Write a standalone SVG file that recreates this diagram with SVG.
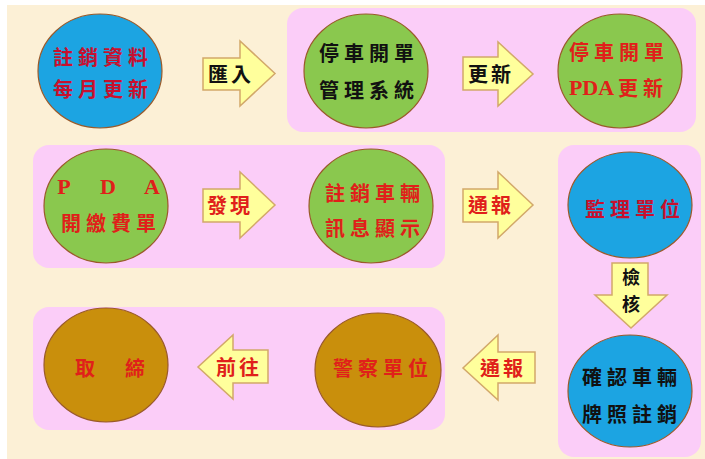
<svg xmlns="http://www.w3.org/2000/svg" width="705" height="459" viewBox="0 0 705 459">
<defs>
<style>
.bg{fill:#fcf0d6}
.panel{fill:#fbcdf8}
.c{stroke:#9a5a2a;stroke-width:1.2}
.blue{fill:#1ca4e2}
.green{fill:#8ac84e}
.gold{fill:#c98f0c}
.arr{fill:#ffff9c;stroke:#d2a86a;stroke-width:1.5;stroke-linejoin:miter}
text{font-family:"Noto Sans CJK TC","Noto Sans CJK SC",sans-serif;font-weight:bold;font-size:20px;text-anchor:middle;dominant-baseline:central}
.sp{letter-spacing:5px}
.red{fill:#e0201a}
.crim{fill:#c8102e}
.blk{fill:#111}
.lat{font-family:"Liberation Serif",serif;font-size:22px}
.vt{font-size:18px}
</style>
</defs>
<rect x="0" y="0" width="705" height="459" fill="#ffffff"/>
<rect class="bg" x="7" y="5" width="698" height="454"/>
<rect class="panel" x="287" y="8" width="409" height="124" rx="16"/>
<rect class="panel" x="33" y="145" width="412" height="123" rx="16"/>
<rect class="panel" x="558" y="145" width="143" height="312" rx="16"/>
<rect class="panel" x="33" y="307" width="412" height="123" rx="16"/>

<g id="connectors">
<g id="e-import"><path class="arr" d="M203,58 H240 V41 L275,73.5 L240,106 V90 H203 Z"/><text class="blk" x="231" y="73" style="letter-spacing:3px">匯入</text></g>
<g id="e-update"><path class="arr" d="M463,57 H498 V42 L533,74 L498,106 V90 H463 Z"/><text class="blk" x="491" y="73" style="letter-spacing:3px">更新</text></g>
<g id="e-find"><path class="arr" d="M203,189 H240 V172 L275,205 L240,238 V222 H203 Z"/><text class="red" x="230" y="204" style="letter-spacing:3px">發現</text></g>
<g id="e-report1"><path class="arr" d="M463,189 H498 V172 L533,205 L498,238 V222 H463 Z"/><text class="red" x="491" y="204" style="letter-spacing:3px">通報</text></g>
<g id="e-check"><path class="arr" d="M612,263 H648 V295 H667 L631,328 L595,295 H612 Z"/><text class="blk vt" x="631" y="276">檢</text><text class="blk vt" x="631" y="303">核</text></g>
<g id="e-goto"><path class="arr" d="M268,350 H233 V335 L198,367 L233,399 V383 H268 Z"/><text class="red" x="239" y="366" style="letter-spacing:3px">前往</text></g>
<g id="e-report2"><path class="arr" d="M535,352 H498 V335 L463,368 L498,400 V383 H535 Z"/><text class="red" x="503" y="367" style="letter-spacing:3px">通報</text></g>
</g>

<g id="n-monthly">
<ellipse class="c blue" cx="100" cy="71" rx="62" ry="57"/>
<text class="crim sp" x="103" y="56">註銷資料</text>
<text class="crim sp" x="103" y="88">每月更新</text>
</g>
<g id="n-system">
<ellipse class="c green" cx="366" cy="71" rx="62" ry="57"/>
<text class="blk sp" x="369" y="52">停車開單</text>
<text class="blk sp" x="369" y="89">管理系統</text>
</g>
<g id="n-pda-update">
<ellipse class="c green" cx="620" cy="71" rx="62" ry="57"/>
<text class="red sp" x="619" y="51">停車開單</text>
<text class="red" x="616" y="87"><tspan class="lat" style="font-weight:bold">PDA</tspan><tspan dx="4">更</tspan><tspan dx="5">新</tspan></text>
</g>
<g id="n-pda-ticket">
<ellipse class="c green" cx="106" cy="206" rx="62" ry="57"/>
<text class="red lat" x="64" y="186">P</text>
<text class="red lat" x="108" y="186">D</text>
<text class="red lat" x="152" y="186">A</text>
<text class="red sp" x="111" y="222">開繳費單</text>
</g>
<g id="n-display">
<ellipse class="c green" cx="371" cy="206" rx="62" ry="57"/>
<text class="red sp" x="375" y="192">註銷車輛</text>
<text class="red sp" x="375" y="227">訊息顯示</text>
</g>
<g id="n-dmv">
<ellipse class="c blue" cx="630" cy="205" rx="62" ry="53"/>
<text class="crim sp" x="635" y="208">監理單位</text>
</g>
<g id="n-confirm">
<ellipse class="c blue" cx="630" cy="391" rx="62" ry="56"/>
<text class="blk sp" x="632" y="376">確認車輛</text>
<text class="blk sp" x="632" y="413">牌照註銷</text>
</g>
<g id="n-police">
<ellipse class="c gold" cx="378" cy="370" rx="63" ry="57"/>
<text class="red sp" x="383" y="367">警察單位</text>
</g>
<g id="n-enforce">
<ellipse class="c gold" cx="106" cy="365" rx="62" ry="57"/>
<text class="red" x="110" y="367" style="letter-spacing:30px" dx="15">取締</text>
</g>
</svg>
